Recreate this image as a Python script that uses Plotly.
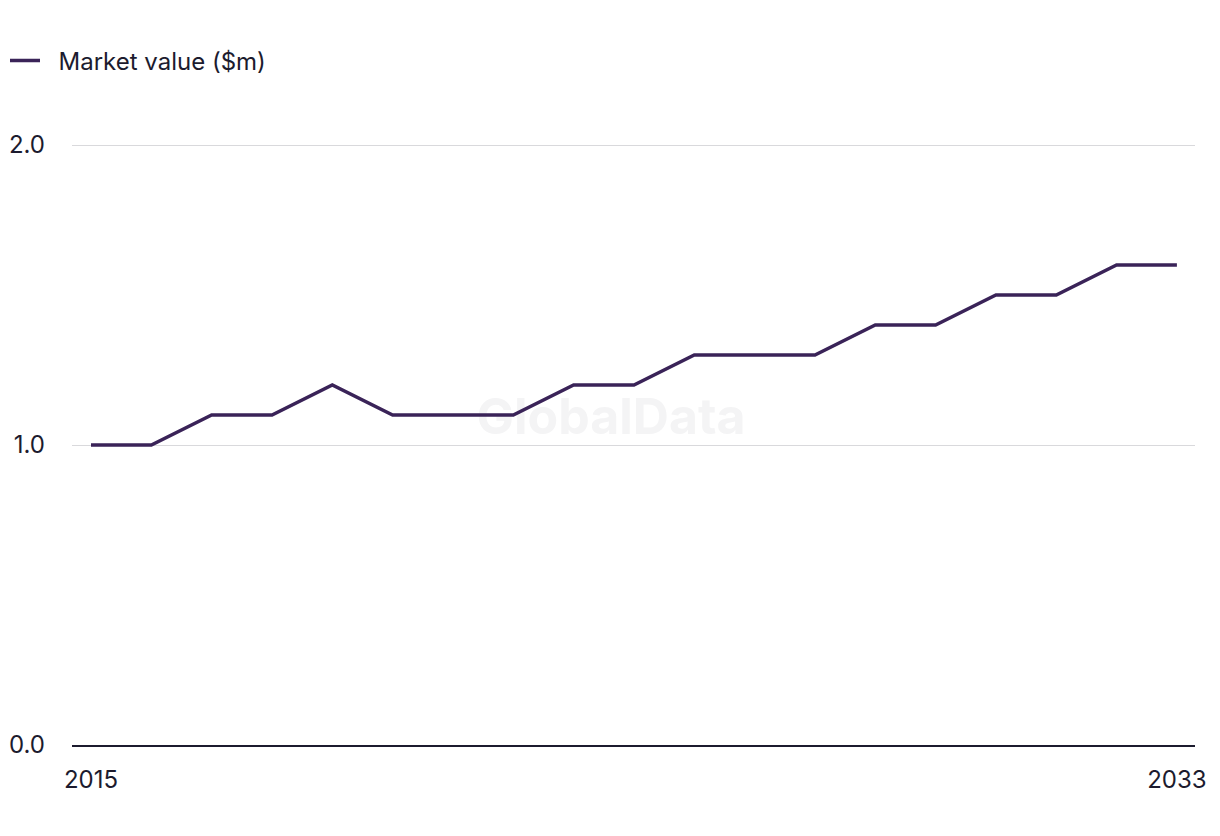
import plotly.graph_objects as go

years = list(range(2015, 2034))
market_value = [1.0, 1.0, 1.1, 1.1, 1.2, 1.1, 1.1, 1.1, 1.2, 1.2,
                1.3, 1.3, 1.3, 1.4, 1.4, 1.5, 1.5, 1.6, 1.6]
series_name = "Market value ($m)"
y_ticks = [0, 1, 2]
y_tick_labels = ["0.0", "1.0", "2.0"]
x_ticks = [2015, 2033]
x_tick_labels = ["2015", "2033"]

FONT = "Inter, Liberation Sans, sans-serif"
TEXT = "#1c1b2e"

fig = go.Figure()
# watermark (behind the line)
fig.add_trace(go.Scatter(
    x=[2023.62], y=[1.08], mode="text", text=["GlobalData"],
    textfont=dict(family=FONT, size=50, color="#f4f4f5", weight="bold"),
    showlegend=False, hoverinfo="skip",
))
fig.add_trace(go.Scatter(
    x=years, y=market_value, mode="lines",
    name="\u00a0\u00a0" + series_name,
    line=dict(color="#3a2358", width=3.5),
))

fig.update_layout(
    width=1220, height=836,
    margin=dict(l=72, r=25, t=142, b=91, autoexpand=False),
    paper_bgcolor="white", plot_bgcolor="white",
    font=dict(family=FONT, size=24, color=TEXT),
    showlegend=True,
    legend=dict(
        xref="container", yref="container",
        x=5 / 1220, y=1 - 61 / 836, xanchor="left", yanchor="middle",
        orientation="h", font=dict(size=24, color=TEXT),
        itemwidth=30,
    ),
    xaxis=dict(
        range=[2014.685, 2033.3],
        tickvals=x_ticks, ticktext=x_tick_labels,
        showgrid=False, zeroline=False,
        showline=True, linecolor="#1c1b2e", linewidth=2,
        ticks="", ticklabelstandoff=12, automargin=False,
        tickfont=dict(size=24, color=TEXT),
    ),
    yaxis=dict(
        range=[0, 2.01],
        tickvals=y_ticks, ticktext=y_tick_labels,
        showgrid=True, gridcolor="#d9d9dc", gridwidth=1,
        zeroline=False, showline=False, ticks="",
        ticklabelstandoff=26, automargin=False,
        tickfont=dict(size=24, color=TEXT),
    ),
)

fig.write_html("out.html")
